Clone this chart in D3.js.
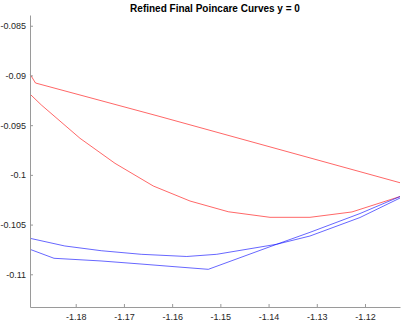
<!DOCTYPE html>
<html>
<head>
<meta charset="utf-8">
<script src="https://cdn.jsdelivr.net/npm/d3@7"></script>
<style>
    body { margin: 0; background: #fff; }
    svg { display: block; }
</style>
</head>
<body>
<div id="chart"></div>
<script>
'use strict';

// curve data
var redUpperX = [-1.18942, -1.18834, -1.16293, -1.11274];
var redUpperY = [-0.08991, -0.09076, -0.09408, -0.10079];

var redLowerX = [-1.18942, -1.18713, -1.17911, -1.17185, -1.16391, -1.15629, -1.14835, -1.13970, -1.13141, -1.12270, -1.11274];
var redLowerY = [-0.09190, -0.09297, -0.09632, -0.09884, -0.10112, -0.10263, -0.10371, -0.10427, -0.10427, -0.10373, -0.10218];

var blueUpperX = [-1.18948, -1.18228, -1.17469, -1.16640, -1.15698, -1.15076, -1.13831, -1.13141, -1.12104, -1.11274];
var blueUpperY = [-0.10638, -0.10715, -0.10763, -0.10799, -0.10821, -0.10799, -0.10698, -0.10615, -0.10429, -0.10233];

var blueLowerX = [-1.18948, -1.18450, -1.17475, -1.16667, -1.15941, -1.15250, -1.13831, -1.13141, -1.12104, -1.11274];
var blueLowerY = [-0.10749, -0.10839, -0.10866, -0.10896, -0.10924, -0.10950, -0.10698, -0.10578, -0.10389, -0.10218];

var xTicks = [-1.18, -1.17, -1.16, -1.15, -1.14, -1.13, -1.12];
var yTicks = [-0.085, -0.09, -0.095, -0.1, -0.105, -0.11];

var curves = [
    { x: redUpperX, y: redUpperY, color: '#ff0000' },
    { x: redLowerX, y: redLowerY, color: '#ff0000' },
    { x: blueUpperX, y: blueUpperY, color: '#0000ff' },
    { x: blueLowerX, y: blueLowerY, color: '#0000ff' }
];

var width = 403,
    height = 324,
    margin = { top: 15, left: 30, right: 3, bottom: 17 },
    axisColor = '#9a9a9a',
    textColor = '#262626',
    fontFamily = 'Liberation Sans, Arial, sans-serif';

var x = d3.scaleLinear()
    .domain([-1.18948, -1.11274])
    .range([margin.left, width - margin.right]);

var y = d3.scaleLinear()
    .domain([-0.11329, -0.08392])
    .range([height - margin.bottom, margin.top]);

var svg = d3.select('#chart').append('svg')
    .attr('width', width)
    .attr('height', height);

// curves first, axes on top
var line = d3.line()
    .x(d => x(d[0]))
    .y(d => y(d[1]));

svg.append('g')
    .selectAll('path')
    .data(curves)
    .enter().append('path')
    .attr('d', c => line(c.x.map((v, i) => [v, c.y[i]])))
    .attr('fill', 'none')
    .attr('stroke', c => c.color)
    .attr('stroke-width', 0.8)
    .attr('stroke-opacity', 0.75);

// inward ticks like octave, plain hyphen minus in labels
var xAxis = d3.axisBottom(x)
    .tickValues(xTicks)
    .tickSizeInner(-3)
    .tickSizeOuter(0)
    .tickPadding(7)
    .tickFormat(d => d.toFixed(2));

var yAxis = d3.axisLeft(y)
    .tickValues(yTicks)
    .tickSizeInner(-3)
    .tickSizeOuter(0)
    .tickPadding(4)
    .tickFormat(d => String(+d.toFixed(3)));

function styleAxis(g) {
    g.select('.domain').attr('stroke', axisColor);
    g.selectAll('.tick line').attr('stroke', axisColor);
    g.selectAll('.tick text')
        .attr('fill', textColor)
        .style('font-family', fontFamily)
        .style('font-size', '9px');
}

svg.append('g')
    .attr('transform', 'translate(0,' + (height - margin.bottom) + ')')
    .call(xAxis)
    .call(styleAxis);

svg.append('g')
    .attr('transform', 'translate(' + margin.left + ',0)')
    .call(yAxis)
    .call(styleAxis);

svg.append('text')
    .attr('x', (margin.left + width - margin.right) / 2)
    .attr('y', 12)
    .attr('text-anchor', 'middle')
    .attr('fill', '#000')
    .style('font-family', fontFamily)
    .style('font-size', '10px')
    .style('font-weight', 'bold')
    .text('Refined Final Poincare Curves y = 0');
</script>
</body>
</html>
